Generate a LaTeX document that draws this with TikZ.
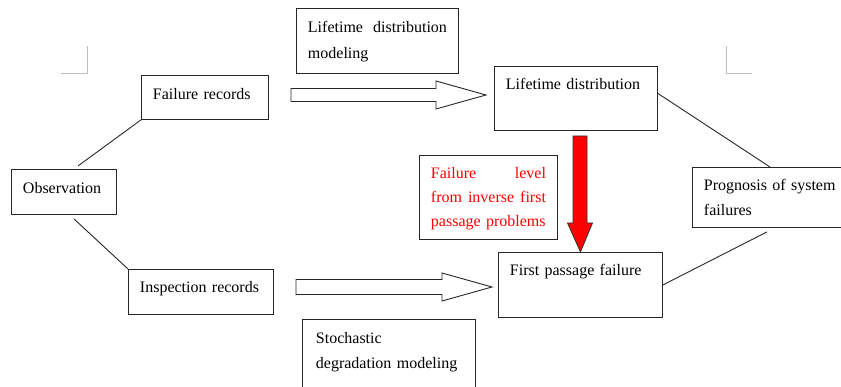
\documentclass[tikz,border=0pt]{standalone}
\usepackage{fontspec}
\setmainfont{Liberation Serif}
\usetikzlibrary{arrows.meta, positioning, calc}

% horizontal block arrow: start, tip, half shaft width
\newcommand{\hollowarrow}[3]{%
  \draw[hollow] let \p1=(#1), \p2=(#2) in
    (\x1,\y1+#3) -- (\x2-50pt,\y1+#3) -- (\x2-50pt,\y1+14pt) -- (\x2,\y1)
    -- (\x2-50pt,\y1-14pt) -- (\x2-50pt,\y1-#3) -- (\x1,\y1-#3) -- cycle;}

\begin{document}
\begin{tikzpicture}[
    x=1pt, y=-1pt,
    every node/.style={font=\fontsize{16}{24}\selectfont},
    box/.style={draw=black!85, line width=0.9pt, anchor=north west, align=left,
                inner xsep=11.5pt, inner ysep=0pt},
    link/.style={draw=black!85, line width=0.9pt},
    hollow/.style={draw=black!85, line width=0.9pt, fill=white},
    corner/.style={draw=black!25, line width=0.9pt}
]
    \useasboundingbox (0,0) rectangle (841,387);

    % page corner marks
    \draw[corner] (61,73) -- (87,73) -- (87,46);
    \draw[corner] (752,73) -- (726,73) -- (726,46);

    % Nodes
    \node[box, text width=82pt, text height=24pt, text depth=21pt] (obs) at (11,169) {Observation};
    \node[box, text width=104pt, text height=24pt, text depth=20pt] (fr) at (141,75) {Failure records};
    \node[box, text width=122pt, text height=23pt, text depth=22pt] (ir) at (128,269) {Inspection records};
    \node[box, text width=139pt, text height=24pt, text depth=41pt,
          font=\fontsize{16}{26}\selectfont] (ldm) at (296,8) {Lifetime\hfill distribution\\modeling};
    \node[box, inner xsep=13.5pt, text width=146pt, text height=24pt, text depth=60pt,
          font=\fontsize{16}{25}\selectfont] (sdm) at (302,319) {Stochastic\\degradation modeling};
    \node[box, text width=140pt, text height=23pt, text depth=41pt] (ld) at (494,66) {Lifetime distribution};
    \node[box, text width=115pt, text height=23pt, text depth=61pt, text=red] (fl) at (419,155)
        {Failure\hfill level\\from\hfill inverse\hfill first\\passage problems};
    \node[box, text width=141pt, text height=23pt, text depth=42pt] (fp) at (498,252) {First passage failure};
    \node[box, text width=147pt, text height=23pt, text depth=37pt,
          font=\fontsize{16}{25}\selectfont] (pg) at (692,167) {Prognosis of system\\failures};

    % free ends of the block arrows
    \coordinate (frout) at (291,95);
    \coordinate (ldin) at (486,95);
    \coordinate (irout) at (296,287);
    \coordinate (fpin) at (492,287);
    \coordinate (rtop) at (580,136);

    % Links
    \draw[link] ([xshift=14pt,yshift=3pt]obs.north) -- (fr.south west);
    \draw[link] ([xshift=10pt,yshift=-4pt]obs.south) -- (ir.north west);
    \draw[link] ([yshift=5pt]ld.east) -- ([xshift=78pt]pg.north west);
    \draw[link] (fp.east) -- ([xshift=75pt,yshift=-4pt]pg.south west);

    % Block arrows
    \hollowarrow{frout}{ldin}{6.5pt}
    \hollowarrow{irout}{fpin}{7.5pt}
    \draw[fill=red, draw=black!80, line width=0.8pt] let \p1=(rtop), \p2=(fp.north) in
        (\x1-7pt,\y1) -- (\x1+7pt,\y1) -- (\x1+7pt,\y2+29pt) -- (\x1+12.5pt,\y2+29pt)
        -- (\x2,\y2) -- (\x1-12.5pt,\y2+29pt) -- (\x1-7pt,\y2+29pt) -- cycle;

\end{tikzpicture}
\end{document}
